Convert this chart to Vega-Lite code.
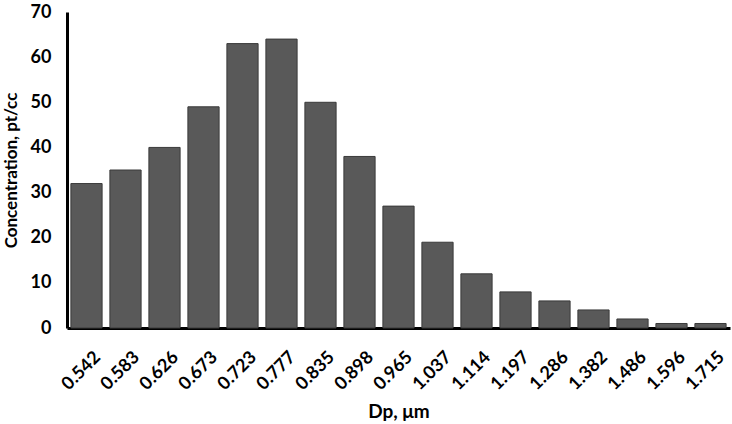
{
  "$schema": "https://vega.github.io/schema/vega-lite/v6.json",
  "width": 663,
  "height": 316,
  "autosize": {"type": "none"},
  "padding": {"left": 67, "top": 12, "right": 2, "bottom": 96},
  "background": "white",
  "config": {"view": {"stroke": null}, "font": "Lato"},
  "data": {"values": [
    {"Dp": "0.542", "Concentration": 32},
    {"Dp": "0.583", "Concentration": 35},
    {"Dp": "0.626", "Concentration": 40},
    {"Dp": "0.673", "Concentration": 49},
    {"Dp": "0.723", "Concentration": 63},
    {"Dp": "0.777", "Concentration": 64},
    {"Dp": "0.835", "Concentration": 50},
    {"Dp": "0.898", "Concentration": 38},
    {"Dp": "0.965", "Concentration": 27},
    {"Dp": "1.037", "Concentration": 19},
    {"Dp": "1.114", "Concentration": 12},
    {"Dp": "1.197", "Concentration": 8},
    {"Dp": "1.286", "Concentration": 6},
    {"Dp": "1.382", "Concentration": 4},
    {"Dp": "1.486", "Concentration": 2},
    {"Dp": "1.596", "Concentration": 1},
    {"Dp": "1.715", "Concentration": 1}
  ]},
  "mark": {"type": "bar", "fill": "#595959", "stroke": "#3a3a3a", "strokeWidth": 1},
  "encoding": {
    "x": {
      "field": "Dp", "type": "ordinal", "sort": null,
      "scale": {"paddingInner": 0.2, "paddingOuter": 0.1},
      "axis": {
        "title": "Dp, μm", "titleFontSize": 19, "titleFontWeight": "bold", "titleColor": "black", "titlePadding": 9,
        "labelAngle": -45, "labelFontSize": 18, "labelFontWeight": "bold", "labelColor": "black", "labelPadding": 20, "labelOffset": 5,
        "domainColor": "black", "domainWidth": 3, "ticks": false
      }
    },
    "y": {
      "field": "Concentration", "type": "quantitative",
      "scale": {"domain": [0, 70]},
      "axis": {
        "title": "Concentration, pt/cc", "titleFontSize": 17, "titleFontWeight": "bold", "titleColor": "black", "titlePadding": 10,
        "values": [0, 10, 20, 30, 40, 50, 60, 70],
        "labelFontSize": 18, "labelFontWeight": "bold", "labelColor": "black", "labelPadding": 16,
        "domainColor": "black", "domainWidth": 3, "ticks": false, "grid": false
      }
    }
  }
}
